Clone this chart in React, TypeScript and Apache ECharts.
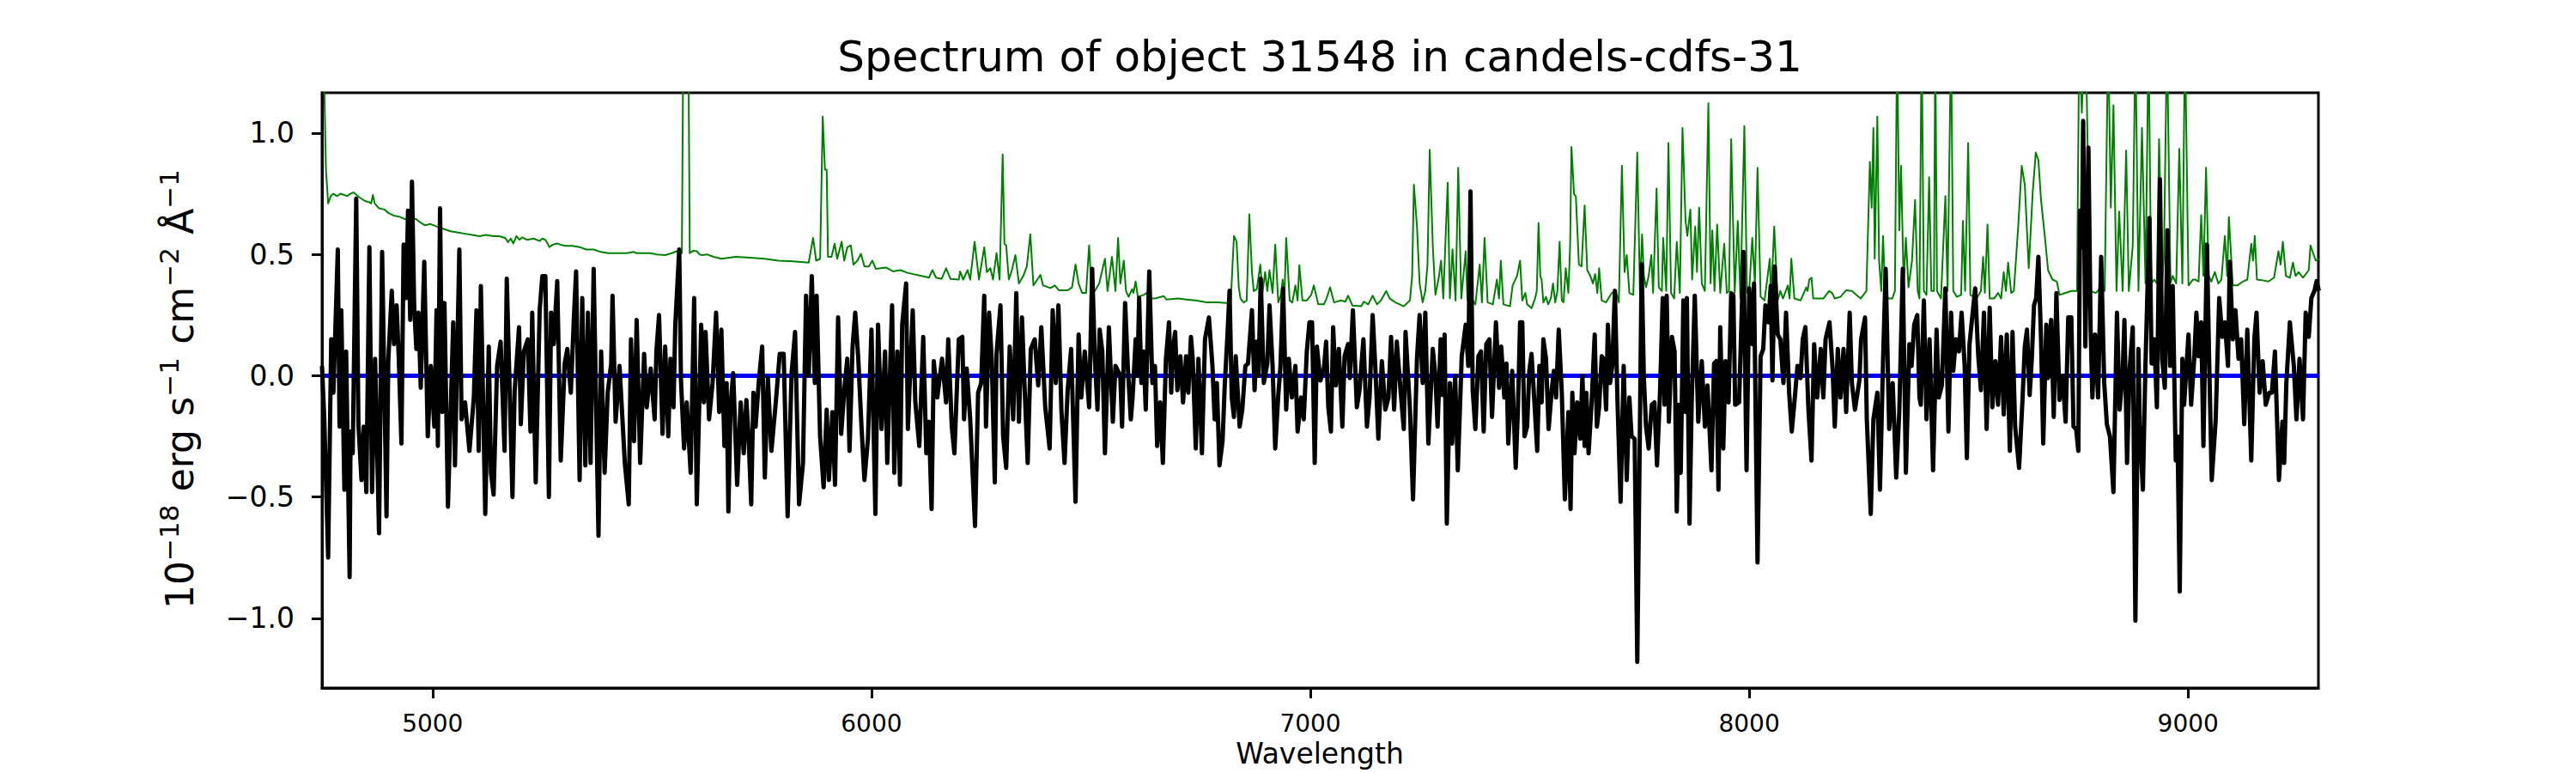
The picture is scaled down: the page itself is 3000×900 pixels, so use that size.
import React, { useEffect, useRef } from "react";
import * as echarts from "echarts";

const TITLE = "Spectrum of object 31548 in candels-cdfs-31";
const X_LABEL = "Wavelength";
const X_TICKS = [5000, 6000, 7000, 8000, 9000];
const Y_TICKS = [-1.0, -0.5, 0.0, 0.5, 1.0];
const X_RANGE = [4748, 9297];
const Y_RANGE = [-1.287, 1.166];
const ZERO_LEVEL = [[4748, 0], [9297, 0]];
const Y_LABEL_PARTS = [
  { text: "10", sup: false },
  { text: "\u221218", sup: true },
  { text: "erg", sup: false, gap: true },
  { text: "s", sup: false, gap: true },
  { text: "\u22121", sup: true },
  { text: "cm", sup: false, gap: true },
  { text: "\u22122", sup: true },
  { text: "\u00c5", sup: false, gap: true },
  { text: "\u22121", sup: true },
];

// observed flux (black), wavelength [A], value [1e-18 erg/s/cm2/A]
const FLUX_A = [
  [4748,0.04],[4753,-0.17],[4762,-0.75],[4769,0.15],[4774,-0.07],[4784,0.52],[4788,-0.21],[4792,0.27],[4799,-0.47],[4803,0.10],
  [4811,-0.83],[4813,-0.23],[4818,-0.32],[4826,0.73],[4831,-0.20],[4838,-0.43],[4843,-0.21],[4849,-0.48],[4856,0.53],[4862,-0.48],
  [4869,0.07],[4878,-0.65],[4885,0.51],[4895,-0.58],[4899,0.06],[4907,0.35],[4912,0.13],[4918,0.29],[4923,0.07],[4929,-0.28],
  [4934,0.54],[4940,0.32],[4944,0.68],[4949,0.23],[4953,0.80],[4958,0.29],[4963,0.11],[4968,0.26],[4973,-0.05],[4981,0.47],
  [4989,-0.25],[4996,0.04],[5004,-0.21],[5009,0.27],[5012,-0.29],[5017,0.69],[5022,-0.15],[5027,0.30],[5035,-0.54],[5047,0.22],
  [5051,-0.37],[5061,0.52],[5066,-0.18],[5074,-0.11],[5084,-0.31],[5094,-0.09],[5100,0.27],[5105,-0.31],[5110,0.37],[5120,-0.57],
  [5128,0.12],[5133,-0.40],[5139,-0.49],[5147,0.04],[5155,0.14],[5164,-0.31],[5169,0.40],[5182,-0.50],[5187,-0.06],[5197,0.20],
  [5201,-0.20],[5208,0.10],[5217,0.15],[5223,-0.23],[5227,0.26],[5235,-0.44],[5244,0.27],[5250,0.41],[5257,0.41],[5265,-0.50],
  [5270,0.26],[5276,0.13],[5284,0.39],[5292,-0.35],[5301,0.05],[5307,0.11],[5315,-0.07],[5322,0.24],[5327,0.43],[5335,-0.43],
  [5341,0.32],[5348,-0.37],[5354,0.26],[5360,-0.36],[5367,0.44],[5378,-0.66],[5384,0.10],[5392,-0.40],[5399,-0.07],[5407,0.05],
  [5410,0.33],[5417,-0.19],[5426,0.04],[5438,-0.36],[5447,-0.53],[5452,0.15],[5459,-0.27],[5465,0.23],[5473,-0.36],[5482,0.09],
  [5488,-0.13],[5497,0.03],[5506,-0.18],[5510,0.10],[5516,0.25],[5524,-0.24],[5530,0.12],[5537,-0.25],[5542,0.07],[5549,-0.13],
  [5553,0.21],[5562,0.52],[5566,-0.02],[5573,-0.30],[5579,-0.11],[5588,-0.40],[5596,0.32],[5602,-0.53],[5612,0.21],[5618,-0.11],
  [5622,0.18],[5630,-0.18],[5638,-0.03],[5646,0.26],[5653,-0.15],[5658,0.19],
];
const FLUX_B = [
  [5665,-0.29],[5670,-0.03],[5674,-0.56],[5679,-0.12],[5685,0.01],[5694,-0.45],[5702,-0.11],[5709,-0.32],[5715,-0.10],[5720,-0.25],
  [5726,-0.53],[5731,-0.07],[5736,-0.21],[5743,-0.03],[5751,0.12],[5757,-0.42],[5764,-0.01],[5772,-0.31],[5782,-0.11],[5791,0.09],
  [5800,0.09],[5809,-0.58],[5818,0.01],[5826,0.18],[5835,-0.53],[5844,-0.36],[5851,0.33],[5857,0.00],[5864,0.41],[5871,-0.03],
  [5875,0.33],[5883,-0.25],[5891,-0.46],[5898,-0.14],[5903,-0.43],[5911,-0.15],[5917,-0.45],[5924,0.24],[5931,-0.24],[5938,-0.06],
  [5945,0.07],[5950,-0.31],[5957,0.12],[5963,0.26],[5970,0.07],[5977,-0.20],[5984,-0.43],[5992,-0.26],[6000,0.19],[6009,-0.57],
  [6015,0.21],[6023,-0.22],[6031,0.10],[6036,-0.36],[6047,0.29],[6052,-0.40],[6059,0.10],[6065,-0.45],[6070,0.21],[6079,0.38],
  [6083,-0.22],[6094,0.27],[6100,-0.11],[6109,-0.29],[6118,0.16],[6125,-0.32],[6131,-0.19],[6137,-0.55],[6142,0.06],[6150,-0.09],
  [6161,0.07],[6170,-0.11],[6175,0.15],[6183,-0.21],[6189,-0.32],[6199,0.15],[6207,0.16],[6211,-0.18],[6217,0.03],[6225,-0.18],
  [6236,-0.62],[6243,-0.07],[6250,-0.03],[6257,0.33],[6261,-0.21],[6268,0.26],[6274,0.07],[6281,-0.44],[6285,0.09],[6294,0.29],
  [6300,-0.25],[6307,-0.38],[6315,0.12],[6323,-0.18],[6330,0.34],[6336,-0.19],[6343,0.24],[6349,-0.05],[6356,-0.36],[6363,0.11],
  [6372,0.15],[6380,-0.04],[6387,0.20],[6396,-0.13],[6406,-0.30],[6413,0.27],[6420,-0.03],[6426,0.29],[6433,-0.15],[6440,-0.36],
  [6447,-0.06],[6455,0.11],[6465,-0.52],[6472,0.17],[6478,-0.09],[6486,0.10],[6496,-0.13],[6503,0.44],[6509,0.07],[6515,-0.14],
  [6520,0.19],[6526,0.10],[6532,-0.32],[6541,0.20],[6550,-0.19],[6556,0.04],[6567,0.00],
];
const FLUX_C = [
  [6571,-0.21],[6578,0.30],[6584,0.04],[6591,-0.18],[6595,-0.09],[6602,0.15],[6606,0.00],[6610,0.32],[6615,-0.03],[6620,0.10],
  [6625,-0.14],[6633,0.43],[6640,-0.03],[6646,0.04],[6651,-0.29],[6658,-0.11],[6664,-0.36],[6671,0.07],[6678,0.22],[6683,-0.07],
  [6687,0.11],[6692,0.18],[6697,-0.06],[6704,0.08],[6710,-0.11],[6717,0.08],[6722,-0.07],[6728,0.16],[6732,0.07],[6739,-0.30],
  [6745,0.07],[6753,-0.32],[6760,0.15],[6769,0.24],[6777,0.04],[6782,-0.18],[6787,-0.03],[6793,-0.37],[6800,-0.27],[6805,-0.04],
  [6811,0.16],[6816,0.35],[6821,-0.09],[6826,-0.17],[6830,0.08],[6839,-0.21],[6845,-0.14],[6852,0.04],[6858,0.05],[6867,0.27],
  [6873,-0.06],[6878,0.14],[6882,0.00],[6887,0.40],[6894,-0.03],[6902,0.05],[6907,0.29],[6914,0.04],[6920,-0.30],[6927,-0.08],
  [6932,0.04],[6938,0.36],[6945,-0.14],[6951,0.07],[6958,-0.09],[6966,0.04],[6971,-0.23],[6979,-0.09],[6985,-0.18],[6992,0.10],
  [6998,0.22],[7004,0.22],[7010,-0.36],[7015,0.12],[7023,-0.02],[7031,0.03],[7036,0.14],[7041,-0.13],[7047,-0.23],[7052,0.20],
  [7058,-0.04],[7065,0.11],[7073,-0.21],[7078,0.08],[7086,0.13],[7090,-0.01],[7097,0.27],[7106,-0.13],[7112,-0.06],[7121,0.15],
  [7129,-0.21],[7135,-0.09],[7142,0.25],[7148,0.04],[7155,-0.26],[7163,0.06],[7171,-0.14],[7178,-0.09],[7184,0.16],[7191,-0.14],
  [7197,0.14],[7206,-0.07],[7213,-0.22],[7217,0.18],[7227,-0.14],[7234,-0.51],[7243,0.07],[7249,0.25],[7256,-0.03],[7262,0.26],
  [7269,-0.28],[7279,0.11],[7285,0.00],[7290,-0.21],[7297,0.15],[7301,-0.08],[7306,0.17],[7311,-0.61],[7318,-0.03],[7323,-0.28],
  [7330,0.00],[7336,-0.39],[7345,0.08],[7354,0.21],[7360,0.04],[7365,0.76],[7370,-0.06],[7376,-0.22],[7383,0.08],[7389,0.10],
  [7395,-0.23],[7401,0.13],[7408,0.15],[7414,-0.17],[7423,0.22],[7430,-0.05],[7435,0.12],[7442,-0.09],[7447,0.05],[7451,-0.28],
  [7460,0.02],[7468,-0.38],[7473,-0.14],[7478,0.22],
];
const FLUX_D = [
  [7483,0.22],[7488,-0.25],[7494,-0.21],[7499,0.02],[7504,0.09],[7509,-0.06],[7517,-0.31],[7522,0.04],[7527,-0.11],[7531,0.15],
  [7537,0.07],[7543,-0.22],[7550,-0.06],[7555,0.02],[7560,-0.09],[7566,0.19],[7573,-0.07],[7580,-0.51],[7588,-0.15],[7593,-0.55],
  [7597,-0.07],[7602,-0.32],[7608,-0.11],[7615,-0.26],[7620,0.00],[7625,-0.29],[7629,-0.07],[7634,-0.32],[7641,-0.11],[7648,0.17],
  [7653,-0.21],[7658,-0.13],[7664,0.08],[7668,0.07],[7674,-0.14],[7678,0.21],[7683,-0.03],[7688,0.04],[7694,0.35],[7700,-0.11],
  [7707,-0.52],[7714,0.04],[7721,-0.43],[7727,-0.09],[7732,-0.25],[7739,-0.26],[7745,-1.18],[7751,-0.21],[7755,0.46],[7760,-0.01],
  [7765,-0.21],[7771,-0.30],[7778,-0.12],[7784,-0.11],[7790,-0.37],[7797,-0.06],[7803,0.32],[7807,-0.12],[7812,0.33],[7817,-0.19],
  [7824,0.16],[7830,0.10],[7835,-0.56],[7840,-0.12],[7844,-0.40],[7850,0.31],[7855,-0.15],[7858,0.32],[7864,-0.61],[7869,-0.11],
  [7876,0.33],[7884,-0.19],[7892,0.06],[7899,-0.21],[7905,-0.04],[7914,-0.39],[7920,0.05],[7925,0.06],[7930,-0.47],[7934,0.20],
  [7941,-0.30],[7946,0.06],[7953,-0.11],[7959,0.34],[7964,0.33],[7968,-0.12],[7977,-0.11],[7987,0.51],[7994,-0.39],[8000,0.36],
  [8007,0.13],[8011,0.38],[8019,-0.77],[8026,0.08],[8032,0.11],[8037,0.29],[8044,0.22],[8049,0.37],[8053,-0.02],[8058,0.45],
  [8065,0.17],[8071,0.15],[8078,-0.03],[8084,0.26],[8091,-0.07],[8097,-0.23],[8104,-0.09],[8110,0.04],[8117,-0.01],[8122,0.15],
  [8128,0.20],[8135,-0.14],[8142,-0.35],[8148,0.13],[8155,-0.09],[8163,0.11],[8169,-0.09],[8174,0.15],[8183,0.22],[8190,0.03],
  [8195,-0.21],[8202,0.11],[8208,-0.09],[8215,0.11],[8221,-0.15],[8229,0.26],[8234,-0.03],[8241,-0.14],[8251,-0.02],[8255,0.15],
  [8264,0.24],[8268,-0.18],[8277,-0.57],[8283,-0.18],[8292,-0.07],[8298,-0.47],[8305,0.06],[8311,0.44],[8319,-0.22],[8327,-0.03],
  [8335,-0.42],[8342,-0.15],[8350,0.44],[8357,-0.40],[8365,0.13],[8370,0.04],[8376,0.21],[8383,0.25],[8388,-0.09],
];
const FLUX_E = [
  [8391,-0.12],[8398,0.31],[8404,-0.18],[8411,0.15],[8419,-0.39],[8427,0.19],[8432,-0.09],[8439,-0.04],[8447,0.36],[8454,-0.23],
  [8460,0.26],[8465,0.02],[8471,0.15],[8478,0.10],[8484,0.26],[8491,0.04],[8496,-0.34],[8502,0.13],[8507,0.22],[8515,0.36],
  [8522,0.08],[8528,-0.06],[8535,0.26],[8541,-0.22],[8548,0.28],[8554,-0.13],[8561,0.06],[8567,-0.12],[8574,0.16],[8580,-0.16],
  [8587,0.17],[8594,-0.31],[8600,0.18],[8606,-0.21],[8615,-0.38],[8623,-0.09],[8628,0.12],[8633,0.19],[8639,-0.08],[8644,0.07],
  [8649,0.29],[8654,0.32],[8659,0.49],[8665,0.15],[8670,-0.28],[8677,0.21],[8681,-0.01],[8688,0.23],[8694,-0.17],[8700,0.34],
  [8707,-0.10],[8714,0.00],[8721,-0.19],[8727,0.24],[8734,0.24],[8739,-0.21],[8745,-0.22],[8750,-0.31],[8754,0.68],[8758,0.53],
  [8761,1.05],[8766,0.12],[8773,0.94],[8778,0.19],[8782,-0.09],[8788,0.17],[8795,-0.09],[8802,0.49],[8809,-0.03],[8815,-0.20],
  [8822,-0.25],[8830,-0.48],[8838,0.26],[8844,-0.14],[8851,0.01],[8855,0.23],[8861,-0.36],[8867,0.03],[8874,0.20],[8880,-1.01],
  [8887,0.11],[8890,-0.21],[8897,-0.47],[8903,0.05],[8912,0.65],[8917,0.05],[8923,0.15],[8929,-0.13],[8936,0.81],[8941,0.07],
  [8947,-0.05],[8953,0.60],[8959,0.04],[8965,0.37],[8972,-0.35],[8976,-0.25],[8981,-0.89],[8987,0.07],[8991,-0.12],[9001,0.17],
  [9007,-0.12],[9014,0.07],[9019,0.26],[9024,0.08],[9030,0.22],[9035,-0.29],[9043,0.54],[9048,0.07],[9054,-0.43],[9063,-0.18],
  [9071,0.32],[9078,0.16],[9084,0.22],[9091,0.04],[9095,0.47],[9102,0.15],[9108,0.27],[9115,0.07],[9121,0.15],[9128,-0.20],
  [9135,0.19],[9144,-0.35],[9151,0.15],[9156,0.26],[9163,-0.07],[9170,0.06],[9177,-0.12],[9185,-0.07],[9191,-0.07],[9198,0.10],
  [9207,-0.43],[9215,-0.19],[9219,-0.36],[9224,-0.03],[9232,0.22],[9241,0.04],[9247,-0.18],[9254,0.07],[9262,-0.18],[9268,0.26],
  [9275,0.16],[9281,0.32],[9288,0.35],[9293,0.39],[9298,0.35],
];

// noise / error spectrum (green)
const NOISE_A = [
  [4748,1.6],[4752,1.3],[4757,0.85],[4762,0.71],[4768,0.74],[4774,0.75],[4782,0.74],[4790,0.75],[4798,0.745],[4805,0.74],
  [4813,0.75],[4820,0.755],[4833,0.735],[4846,0.72],[4856,0.715],[4860,0.71],[4864,0.745],[4868,0.71],[4878,0.69],[4890,0.685],
  [4900,0.67],[4911,0.66],[4925,0.655],[4937,0.645],[4950,0.65],[4963,0.645],[4973,0.63],[4983,0.62],[4995,0.625],[5009,0.615],
  [5025,0.605],[5041,0.595],[5058,0.59],[5074,0.585],[5090,0.58],[5107,0.575],[5122,0.58],[5139,0.575],[5152,0.575],[5165,0.568],
  [5172,0.55],[5178,0.565],[5184,0.545],[5191,0.575],[5198,0.56],[5204,0.57],[5215,0.56],[5230,0.565],[5244,0.555],[5250,0.565],
  [5257,0.56],[5262,0.545],[5266,0.53],[5274,0.54],[5283,0.545],[5292,0.54],[5302,0.535],[5318,0.535],[5335,0.53],[5350,0.52],
  [5367,0.52],[5383,0.51],[5400,0.505],[5420,0.505],[5443,0.505],[5458,0.51],[5465,0.505],[5495,0.505],[5510,0.5],[5530,0.497],
  [5545,0.505],[5556,0.513],[5568,0.505],[5572,1.6],[5582,1.6],[5586,0.505],[5594,0.515],[5602,0.513],[5608,0.5],[5615,0.497],
  [5625,0.5],[5640,0.49],[5658,0.482],
];
const NOISE_B = [
  [5691,0.49],[5723,0.486],[5756,0.482],[5788,0.474],[5821,0.471],[5857,0.466],[5867,0.568],[5874,0.474],[5883,0.482],[5889,1.068],
  [5894,0.849],[5898,0.849],[5901,0.49],[5909,0.49],[5916,0.544],[5922,0.482],[5932,0.552],[5938,0.474],[5945,0.529],[5953,0.537],
  [5959,0.458],[5968,0.474],[5976,0.502],[5984,0.45],[5994,0.45],[6002,0.474],[6010,0.44],[6033,0.446],[6049,0.43],[6066,0.435],
  [6082,0.424],[6114,0.411],[6131,0.404],[6139,0.435],[6147,0.404],[6160,0.399],[6170,0.443],[6180,0.399],[6199,0.396],[6202,0.43],
  [6209,0.396],[6219,0.435],[6225,0.396],[6235,0.552],[6245,0.396],[6257,0.529],[6263,0.427],[6271,0.443],[6277,0.396],[6285,0.505],
  [6292,0.396],[6299,0.912],[6303,0.544],[6307,0.537],[6313,0.396],[6320,0.435],[6328,0.497],[6336,0.38],[6346,0.411],[6354,0.45],
  [6362,0.583],[6369,0.372],[6378,0.396],[6385,0.415],[6391,0.372],[6408,0.361],[6418,0.372],[6427,0.352],[6447,0.352],[6457,0.364],
  [6465,0.458],[6472,0.38],[6480,0.341],[6489,0.341],[6496,0.537],[6502,0.341],[6509,0.349],[6519,0.38],[6532,0.482],[6538,0.349],
  [6548,0.49],[6556,0.349],[6562,0.568],[6567,0.38],
];
const NOISE_C = [
  [6575,0.474],[6580,0.349],[6586,0.325],[6594,0.357],[6597,0.341],[6602,0.388],[6607,0.325],[6620,0.333],[6627,0.341],[6633,0.318],
  [6646,0.318],[6666,0.328],[6672,0.314],[6698,0.318],[6718,0.314],[6738,0.31],[6764,0.302],[6790,0.302],[6813,0.299],[6819,0.318],
  [6826,0.576],[6832,0.552],[6837,0.364],[6841,0.318],[6848,0.302],[6855,0.31],[6861,0.665],[6867,0.427],[6871,0.349],[6878,0.357],
  [6886,0.458],[6891,0.341],[6897,0.427],[6902,0.349],[6907,0.435],[6914,0.341],[6920,0.54],[6927,0.302],[6933,0.333],[6937,0.396],
  [6941,0.325],[6945,0.568],[6953,0.31],[6959,0.302],[6966,0.372],[6971,0.31],[6975,0.455],[6982,0.31],[6992,0.31],[7002,0.333],
  [7008,0.372],[7018,0.294],[7031,0.294],[7037,0.318],[7045,0.364],[7054,0.302],[7070,0.31],[7080,0.305],[7086,0.33],[7096,0.289],
  [7116,0.286],[7122,0.305],[7132,0.294],[7142,0.33],[7152,0.294],[7161,0.31],[7173,0.349],[7181,0.318],[7194,0.302],[7213,0.286],
  [7227,0.31],[7232,0.411],[7236,0.787],[7243,0.615],[7249,0.38],[7256,0.302],[7262,0.349],[7267,0.458],[7272,0.931],[7279,0.537],
  [7285,0.333],[7292,0.396],[7298,0.474],[7303,0.318],[7313,0.795],[7318,0.318],[7324,0.521],[7331,0.31],[7337,0.857],[7344,0.318],
  [7354,0.513],[7358,0.31],[7370,0.31],[7376,0.294],[7386,0.458],[7391,0.302],[7397,0.568],[7404,0.302],[7416,0.294],[7425,0.396],
  [7430,0.318],[7434,0.474],[7440,0.294],[7455,0.286],[7461,0.372],[7471,0.411],[7478,0.474],
];
const NOISE_D = [
  [7483,0.31],[7490,0.341],[7494,0.294],[7504,0.278],[7512,0.318],[7516,0.349],[7520,0.63],[7524,0.411],[7527,0.396],[7531,0.302],
  [7537,0.325],[7542,0.294],[7548,0.318],[7553,0.38],[7558,0.302],[7563,0.349],[7568,0.552],[7573,0.31],[7577,0.302],[7582,0.443],
  [7588,0.341],[7592,0.537],[7595,0.943],[7601,0.748],[7605,0.74],[7612,0.458],[7618,0.45],[7625,0.701],[7631,0.435],[7638,0.411],
  [7644,0.38],[7649,0.419],[7654,0.341],[7658,0.443],[7664,0.31],[7674,0.302],[7687,0.341],[7696,0.349],[7703,0.302],[7710,0.865],
  [7716,0.427],[7721,0.497],[7727,0.341],[7736,0.333],[7745,0.92],[7751,0.349],[7756,0.583],[7760,0.411],[7765,0.364],[7771,0.411],
  [7777,0.497],[7781,0.341],[7789,0.771],[7794,0.364],[7801,0.349],[7804,0.568],[7811,0.349],[7816,0.959],[7822,0.341],[7829,0.318],
  [7835,0.552],[7842,0.341],[7848,1.021],[7855,0.638],[7859,0.576],[7866,0.685],[7870,0.396],[7877,0.615],[7881,0.427],[7886,0.693],
  [7892,0.38],[7899,0.349],[7907,1.123],[7912,0.38],[7916,0.599],[7921,0.349],[7927,0.623],[7934,0.341],[7943,0.544],[7949,0.341],
  [7954,0.349],[7959,0.975],[7967,0.341],[7974,0.638],[7980,0.318],[7989,1.029],[7995,0.341],[8000,0.349],[8007,0.568],[8013,0.38],
  [8019,0.857],[8026,0.325],[8035,0.31],[8047,0.482],[8050,0.318],[8057,0.615],[8065,0.31],[8071,0.349],[8077,0.318],[8088,0.372],
  [8092,0.318],[8096,0.482],[8103,0.318],[8117,0.31],[8130,0.364],[8133,0.349],[8137,0.396],[8142,0.404],[8146,0.318],[8156,0.318],
  [8169,0.318],[8182,0.349],[8189,0.341],[8195,0.318],[8208,0.325],[8221,0.352],[8234,0.349],[8244,0.333],[8254,0.318],[8267,0.349],
  [8275,0.881],[8279,0.693],[8283,1.021],[8286,0.482],[8292,1.068],[8296,0.474],[8301,0.349],[8305,0.576],[8309,0.38],[8316,0.318],
  [8326,0.318],[8332,0.349],[8337,1.4],[8342,0.599],[8346,0.865],[8352,0.38],[8357,0.568],[8363,0.364],[8371,0.474],[8378,0.724],
  [8384,0.349],[8388,0.318],
];
const NOISE_E = [
  [8393,1.4],[8398,0.349],[8404,0.333],[8410,0.818],[8415,0.349],[8421,0.349],[8424,1.4],[8428,0.349],[8437,0.318],[8447,0.74],
  [8452,0.349],[8460,1.4],[8465,0.349],[8473,0.325],[8483,0.333],[8487,0.638],[8492,0.349],[8499,0.959],[8504,0.333],[8518,0.318],
  [8528,0.349],[8533,0.49],[8537,0.341],[8543,0.623],[8548,0.318],[8558,0.318],[8567,0.341],[8574,0.318],[8580,0.427],[8585,0.349],
  [8590,0.466],[8597,0.341],[8603,0.349],[8613,0.615],[8621,0.865],[8628,0.787],[8637,0.443],[8646,0.755],[8653,0.92],[8659,0.888],
  [8665,0.724],[8674,0.568],[8681,0.435],[8691,0.396],[8701,0.388],[8707,0.333],[8721,0.341],[8734,0.349],[8747,0.349],[8752,1.4],
  [8758,1.084],[8763,1.4],[8767,1.4],[8771,0.959],[8779,0.349],[8789,0.341],[8795,0.349],[8802,0.38],[8810,0.349],[8818,1.4],
  [8824,0.693],[8830,1.115],[8837,0.349],[8843,0.677],[8851,0.349],[8859,0.928],[8865,0.349],[8874,0.537],[8880,1.4],[8887,0.349],
  [8895,1.021],[8903,0.38],[8910,1.4],[8916,0.38],[8923,0.396],[8929,0.38],[8934,0.975],[8941,0.38],[8945,0.49],[8952,1.4],
  [8960,0.38],[8965,0.411],[8973,0.38],[8980,0.935],[8987,0.38],[8993,1.4],[9001,0.372],[9011,0.396],[9017,0.396],[9024,0.388],
  [9030,0.662],[9035,0.411],[9041,0.857],[9047,0.411],[9053,0.388],[9061,0.427],[9069,0.38],[9076,0.396],[9084,0.576],[9089,0.411],
  [9093,0.654],[9102,0.372],[9112,0.372],[9125,0.388],[9135,0.396],[9144,0.544],[9148,0.474],[9152,0.576],[9157,0.396],[9170,0.393],
  [9183,0.388],[9196,0.404],[9206,0.513],[9211,0.458],[9216,0.552],[9223,0.411],[9232,0.404],[9239,0.466],[9245,0.411],[9252,0.427],
  [9262,0.404],[9275,0.435],[9279,0.537],[9285,0.505],[9291,0.474],[9298,0.482],
];

const FONT = '"DejaVu Sans", "Liberation Sans", sans-serif';

function measure(text: string, size: number): number {
  const c = document.createElement("canvas").getContext("2d");
  if (!c) return text.length * size * 0.6;
  c.font = `${size}px "DejaVu Sans"`;
  return c.measureText(text).width;
}

function buildYLabel() {
  const MAIN = 44;
  const SUP = 31;
  const TOTAL = 512;
  const CENTER_Y = 453;
  const MAIN_BASE_X = 225;
  const SUP_BASE_X = 208;
  const widths = Y_LABEL_PARTS.map((p) => measure(p.text, p.sup ? SUP : MAIN));
  const textW = widths.reduce((a, b) => a + b, 0);
  const nGaps = Y_LABEL_PARTS.filter((p) => (p as any).gap).length;
  const gap = Math.max(6, (TOTAL - textW) / nGaps);
  const total = textW + gap * nGaps;
  let y = CENTER_Y + total / 2;
  const els: any[] = [];
  Y_LABEL_PARTS.forEach((p, i) => {
    if ((p as any).gap) y -= gap;
    const size = p.sup ? SUP : MAIN;
    const baseX = p.sup ? SUP_BASE_X : MAIN_BASE_X;
    els.push({
      type: "text",
      x: baseX - 0.346 * size,
      y,
      rotation: Math.PI / 2,
      silent: true,
      style: {
        text: p.text,
        fill: "#000",
        font: `${size}px ${FONT}`,
        textAlign: "left",
        textVerticalAlign: "middle",
      },
    });
    y -= widths[i];
  });
  return els;
}

export default function App() {
  const ref = useRef<HTMLDivElement>(null);
  useEffect(() => {
    if (!ref.current) return;
    const chart = echarts.init(ref.current, null, { renderer: "svg" });
    const flux = [...FLUX_A, ...FLUX_B, ...FLUX_C, ...FLUX_D, ...FLUX_E];
    const noise = [...NOISE_A, ...NOISE_B, ...NOISE_C, ...NOISE_D, ...NOISE_E];
    const fmtY = (v: number) =>
      (v < 0 ? "\u2212" : "") + Math.abs(v).toFixed(1);
    chart.setOption({
      animation: false,
      backgroundColor: "#fff",
      grid: {
        left: 375,
        right: 300,
        top: 108,
        bottom: 99,
        show: true,
        borderColor: "#000",
        borderWidth: 3,
        outerBoundsMode: "none",
        containLabel: false,
      },
      xAxis: {
        type: "value",
        min: X_RANGE[0],
        max: X_RANGE[1],
        axisLine: { show: true, onZero: false, lineStyle: { color: "#000", width: 3 } },
        axisTick: {
          show: true,
          customValues: X_TICKS,
          length: 12,
          lineStyle: { color: "#000", width: 3 },
        },
        axisLabel: {
          customValues: X_TICKS,
          color: "#000",
          fontFamily: FONT,
          fontSize: 28,
          margin: 27,
          formatter: (v: number) => String(v),
        },
        splitLine: { show: false },
      },
      yAxis: {
        type: "value",
        min: Y_RANGE[0],
        max: Y_RANGE[1],
        axisLine: { show: true, onZero: false, lineStyle: { color: "#000", width: 3 } },
        axisTick: {
          show: true,
          customValues: Y_TICKS,
          length: 12,
          lineStyle: { color: "#000", width: 3 },
        },
        axisLabel: {
          customValues: Y_TICKS,
          color: "#000",
          fontFamily: FONT,
          fontSize: 33,
          margin: 32,
          formatter: fmtY,
        },
        splitLine: { show: false },
      },
      graphic: [
        {
          type: "text",
          x: 1537,
          y: 66,
          silent: true,
          style: {
            text: TITLE,
            fill: "#000",
            font: `50px ${FONT}`,
            textAlign: "center",
            textVerticalAlign: "middle",
          },
        },
        {
          type: "text",
          x: 1537,
          y: 877,
          silent: true,
          style: {
            text: X_LABEL,
            fill: "#000",
            font: `33px ${FONT}`,
            textAlign: "center",
            textVerticalAlign: "middle",
          },
        },
        ...buildYLabel(),
      ],
      series: [
        {
          name: "zero",
          type: "line",
          data: ZERO_LEVEL,
          symbol: "none",
          silent: true,
          lineStyle: { color: "#0000ff", width: 5 },
          z: 2,
        },
        {
          name: "noise",
          type: "line",
          data: noise,
          symbol: "none",
          silent: true,
          clip: true,
          lineStyle: { color: "#008000", width: 2, join: "round" },
          z: 3,
        },
        {
          name: "flux",
          type: "line",
          data: flux,
          symbol: "none",
          silent: true,
          clip: true,
          lineStyle: { color: "#000000", width: 5, join: "round" },
          z: 4,
        },
      ],
    });
    return () => chart.dispose();
  }, []);
  return (
    <div
      ref={ref}
      style={{ position: "fixed", left: 0, top: 0, width: 3000, height: 900 }}
    />
  );
}
